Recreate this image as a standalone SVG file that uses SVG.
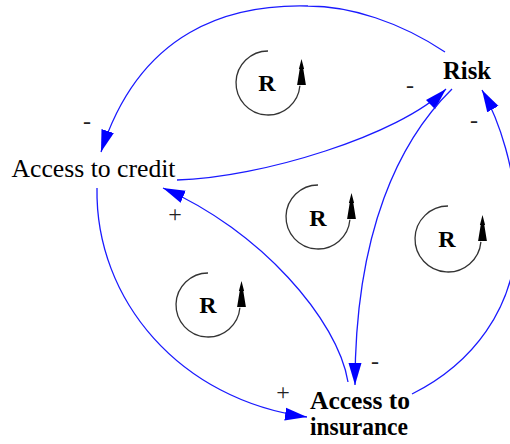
<svg xmlns="http://www.w3.org/2000/svg" width="510" height="444" viewBox="0 0 510 444">
<style>
.lbl{font-family:"Liberation Serif","Times New Roman",serif;font-size:25px;fill:#000}
.sgn{font-family:"Liberation Serif","Times New Roman",serif;font-size:24px;fill:#222;text-anchor:middle}
.rl{font-family:"Liberation Serif","Times New Roman",serif;font-size:24px;font-weight:bold;fill:#000;text-anchor:middle}
.lk{fill:none;stroke:#1a1aff;stroke-width:1.3;marker-end:url(#ah)}
.loop{fill:none;stroke:#333;stroke-width:1.3}
</style>
<defs>
<marker id="ah" markerUnits="userSpaceOnUse" markerWidth="24" markerHeight="14" refX="22" refY="7" orient="auto" viewBox="0 0 24 14">
<path d="M0,0.5 L22,7 L0,13.5 Z" fill="#0000ff"/>
</marker>
<path id="lh" d="M0,-26 L2.6,-16 L1.8,-16 L4.4,0 L-4.4,0 L-1.8,-16 L-2.6,-16 Z" fill="#000"/>
</defs>

<g id="connectors">
<path class="lk" d="M445,52 C400,22 350,6 308,6 C230,4 140,30 101,152"/>
<path class="lk" d="M177,180 C260,178 400,135 446,89"/>
<path class="lk" d="M97,188 C95,300 180,400 307,417"/>
<path class="lk" d="M348,382 C338,320 260,230 163,188"/>
<path class="lk" d="M452,89 C400,140 355,230 355,385"/>
<path class="lk" d="M412,394 C470,365 517,310 517,230 C517,170 498,118 482,90"/>
</g>

<g id="polarities">
<text class="sgn" x="87" y="129">-</text>
<text class="sgn" x="175" y="222">+</text>
<text class="sgn" x="410" y="93">-</text>
<text class="sgn" x="474" y="128">-</text>
<text class="sgn" x="375" y="369">-</text>
<text class="sgn" x="283" y="400">+</text>
</g>

<g id="loop1">
<path class="loop" d="M268,51 A32,32 0 1 0 299.9,85.8"/>
<use href="#lh" x="301.5" y="85"/>
<text class="rl" x="267" y="91">R</text>
</g>
<g id="loop2">
<path class="loop" d="M318,185 A32,32 0 1 0 349.9,219.8"/>
<use href="#lh" x="351.5" y="219"/>
<text class="rl" x="318" y="226">R</text>
</g>
<g id="loop3">
<path class="loop" d="M448,206 A33,33 0 1 0 480.9,241.9"/>
<use href="#lh" x="482.5" y="241"/>
<text class="rl" x="447" y="247">R</text>
</g>
<g id="loop4">
<path class="loop" d="M208,273 A32,32 0 1 0 239.9,307.8"/>
<use href="#lh" x="241.5" y="307"/>
<text class="rl" x="208" y="313">R</text>
</g>

<g id="credit">
<text class="lbl" x="11.5" y="177" textLength="164" lengthAdjust="spacingAndGlyphs">Access to credit</text>
</g>
<g id="risk">
<text class="lbl" x="443" y="78.5" font-weight="bold" textLength="48" lengthAdjust="spacingAndGlyphs">Risk</text>
</g>
<g id="insurance">
<text class="lbl" x="310" y="408.5" font-weight="bold" textLength="100" lengthAdjust="spacingAndGlyphs">Access to</text>
<text class="lbl" x="310" y="435" font-weight="bold" textLength="98" lengthAdjust="spacingAndGlyphs">insurance</text>
</g>
</svg>
